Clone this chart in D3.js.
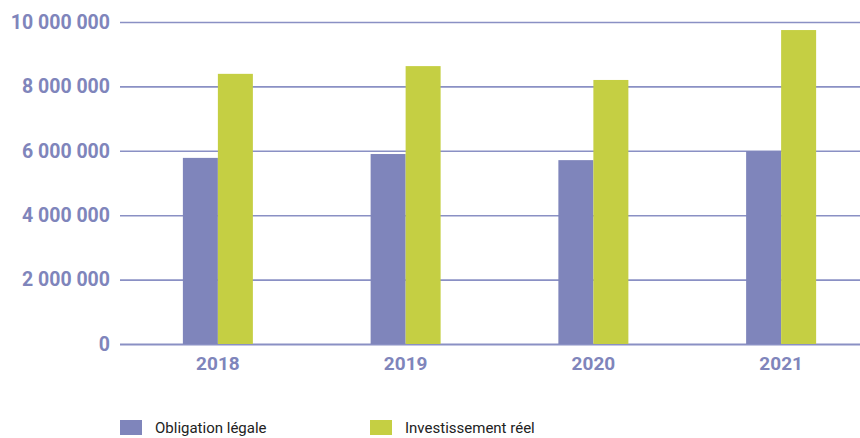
<!DOCTYPE html>
<html>
<head>
<meta charset="utf-8">
<script src="https://cdn.jsdelivr.net/npm/d3@7"></script>
<style>
  html, body { margin: 0; padding: 0; background: #fff; }
  svg { display: block; }
</style>
</head>
<body>
<svg id="chart" width="860" height="438"></svg>
<script>
const categories = ["2018", "2019", "2020", "2021"];
const seriesNames = ["Obligation légale", "Investissement réel"];
const obligation = [5780000, 5900000, 5710000, 5990000];
const investissement = [8390000, 8630000, 8200000, 9750000];
const yTicks = [0, 2000000, 4000000, 6000000, 8000000, 10000000];
const colors = ["#7f85bb", "#c5cf43"];
const axisColor = "#7f85bb";

const svg = d3.select("#chart");
const W = 860, H = 438;
const margin = { left: 120, right: 0, top: 22, bottom: 94 };

const y = d3.scaleLinear().domain([0, 10000000]).range([344, 22]);
const x = d3.scaleBand().domain(categories).range([124, 875]).paddingInner(0).paddingOuter(0);
const xSub = d3.scaleBand().domain(seriesNames).range([0, 70]);

const fmt = v => d3.format(",")(v).replace(/,/g, " ");

// gridlines
const yAxis = d3.axisLeft(y).tickValues(yTicks).tickSize(-(W - margin.left)).tickFormat(fmt).tickPadding(10);
const gy = svg.append("g").attr("transform", `translate(${margin.left},0)`).call(yAxis);
gy.select(".domain").remove();
gy.selectAll(".tick line")
  .attr("stroke", "#8a90c4")
  .attr("stroke-width", d => d === 0 ? 2.2 : 1.6);
gy.selectAll(".tick text")
  .attr("fill", axisColor)
  .style("font-family", "Roboto, 'Open Sans', sans-serif")
  .style("font-weight", "700")
  .style("font-size", "19.5px");

// bars
const data = categories.map((c, i) => ({ cat: c, vals: [obligation[i], investissement[i]] }));
const groups = svg.append("g").selectAll("g").data(data).join("g")
  .attr("transform", d => `translate(${x(d.cat) + x.bandwidth() / 2 - 35},0)`);
groups.selectAll("rect").data(d => d.vals.map((v, j) => ({ v, j })))
  .join("rect")
  .attr("x", d => xSub(seriesNames[d.j]))
  .attr("width", xSub.bandwidth())
  .attr("y", d => y(d.v))
  .attr("height", d => y(0) - y(d.v))
  .attr("fill", d => colors[d.j]);

// x axis labels
const xAxis = d3.axisBottom(x).tickSize(0).tickPadding(13);
const gx = svg.append("g").attr("transform", `translate(0,344)`).call(xAxis);
gx.select(".domain").remove();
gx.selectAll(".tick text")
  .attr("fill", axisColor)
  .style("font-family", "Roboto, 'Open Sans', sans-serif")
  .style("font-weight", "700")
  .style("font-size", "19px");

// legend
const legendX = [120, 370];
const legend = svg.append("g").selectAll("g").data(seriesNames).join("g")
  .attr("transform", (d, i) => `translate(${legendX[i]},420)`);
legend.append("rect").attr("width", 22).attr("height", 15).attr("fill", (d, i) => colors[i]);
legend.append("text")
  .attr("x", 35).attr("y", 13)
  .text(d => d)
  .attr("fill", "#222")
  .style("font-family", "Roboto, 'Open Sans', sans-serif")
  .style("font-size", "15px");
</script>
</body>
</html>
